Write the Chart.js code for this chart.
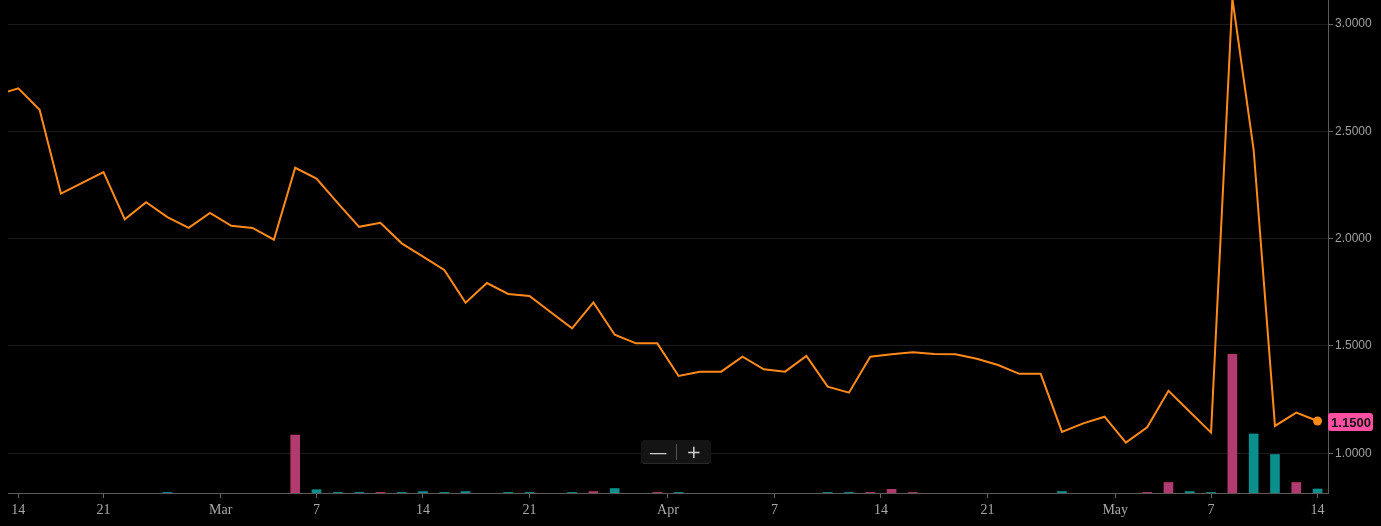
<!DOCTYPE html>
<html>
<head>
<meta charset="utf-8">
<script src="https://cdn.jsdelivr.net/npm/chart.js@4.4.1/dist/chart.umd.min.js"></script>
<style>
  body { margin: 0; background: #000; overflow: hidden; }
  #wrap { position: relative; width: 1381px; height: 526px; }
  .zoombox {
    position: absolute; left: 641px; top: 440px; width: 70px; height: 24px;
    background: #141414; border-radius: 4px; border-bottom: 1px solid #2a2a2a;
    font-family: "DejaVu Sans", sans-serif; color: #cfcfcf; font-size: 18px;
    display: flex; align-items: center; box-sizing: border-box;
  }
  .zoombox span { flex: 1; text-align: center; line-height: 22px; }
  .zoombox .sep { flex: 0 0 1px; height: 16px; background: #555; }
</style>
</head>
<body>
<div id="wrap">
  <canvas id="grafico" width="1381" height="526"></canvas>
  <div class="zoombox"><span>&#8212;</span><i class="sep"></i><span>+</span></div>
</div>
<script>
// precos de fechamento, o primeiro fica antes do primeiro dia visivel (indice -1)
const precos = [2.67, 2.70, 2.60, 2.21, 2.26, 2.31, 2.09, 2.17, 2.10, 2.05,
  2.12, 2.06, 2.05, 1.995, 2.33, 2.28, 2.165, 2.055, 2.074, 1.978,
  1.916, 1.854, 1.701, 1.793, 1.742, 1.733, 1.657, 1.582, 1.703, 1.552,
  1.512, 1.512, 1.36, 1.38, 1.38, 1.45, 1.391, 1.38, 1.453, 1.31,
  1.282, 1.45, 1.461, 1.47, 1.462, 1.461, 1.44, 1.411, 1.37, 1.37,
  1.099, 1.139, 1.17, 1.049, 1.121, 1.291, 1.193, 1.096, 3.12, 2.413,
  1.127, 1.189, 1.15];

// volume por dia (indice 0..61), null = sem negocios
const volumes = [null, null, null, null, null, null, null, 12, null, null,
  null, null, null, 1176, 67, 12, 12, 12, 12, 30,
  12, 30, null, 12, 12, null, 12, 30, 91, null,
  12, 12, null, null, null, null, null, null, 12, 12,
  12, 75, 12, null, null, null, null, null, null, 30,
  null, null, null, 12, 213, 30, 12, 2813, 1197, 781,
  213, 81];

// 1 = compra (verde), -1 = venda (rosa)
const direcao = [0, 0, 0, 0, 0, 0, 0, 1, 0, 0,
  0, 0, 0, -1, 1, 1, 1, -1, 1, 1,
  1, 1, 0, 1, 1, 0, 1, -1, 1, 0,
  -1, 1, 0, 0, 0, 0, 0, 0, 1, 1,
  -1, -1, -1, 0, 0, 0, 0, 0, 0, 1,
  0, 0, 0, -1, -1, 1, 1, -1, 1, 1,
  -1, 1];

const posicoesX = [0, 4, 9.5, 14, 19, 24, 30.5, 35.5, 40.5, 45.5, 51.5, 56, 61];
const rotulosX = ["14", "21", "Mar", "7", "14", "21", "Apr", "7", "14", "21", "May", "7", "14"];
const ticksY = [1.0, 1.5, 2.0, 2.5, 3.0];

const ultimoPreco = precos[precos.length - 1];

// etiqueta rosa com o ultimo preco no eixo da direita
const etiquetaPreco = {
  id: "etiquetaPreco",
  afterDraw(chart) {
    const ctx = chart.ctx;
    const y = chart.scales.y.getPixelForValue(ultimoPreco) + 1;
    const x0 = chart.chartArea.right;
    ctx.save();
    ctx.fillStyle = "#ff4fa3";
    ctx.beginPath();
    ctx.roundRect(x0, y - 9, 45, 18, 3);
    ctx.fill();
    ctx.fillStyle = "#141414";
    ctx.font = "bold 13px 'Liberation Sans', Arial, sans-serif";
    ctx.textBaseline = "middle";
    ctx.textAlign = "center";
    ctx.fillText(ultimoPreco.toFixed(4), x0 + 23, y + 1);
    ctx.restore();
  },
};

// tira o espaco extra que o Chart.js reserva para os rotulos das pontas
function semPadding(s) {
  s.paddingTop = 0;
  s.paddingBottom = 0;
  s.paddingLeft = 0;
  s.paddingRight = 0;
}

function grafico() {
  const ctx = document.getElementById("grafico").getContext("2d");
  const ultimo = precos.length - 1;

  new Chart(ctx, {
    data: {
      datasets: [
        {
          type: "line",
          data: precos.map((v, i) => ({ x: i - 1, y: v })),
          borderColor: "#ff8a1a",
          borderWidth: 2,
          pointRadius: (c) => (c.dataIndex === ultimo ? 4.5 : 0),
          pointHoverRadius: 0,
          pointBackgroundColor: "#ff8a1a",
          pointBorderWidth: 0,
          tension: 0,
          yAxisID: "y",
          order: 0,
        },
        {
          type: "bar",
          data: volumes.map((v, i) => ({ x: i, y: v })),
          backgroundColor: direcao.map((d) => (d < 0 ? "#b13a6f" : "#0a8f8d")),
          barThickness: 9,
          yAxisID: "vol",
          order: 1,
        },
      ],
    },
    options: {
      responsive: false,
      animation: false,
      devicePixelRatio: 1,
      layout: { autoPadding: false, padding: { left: 8, top: 0, right: 0, bottom: 0 } },
      plugins: { legend: { display: false }, tooltip: { enabled: false } },
      scales: {
        x: {
          type: "linear",
          offset: false,
          min: -0.484,
          max: 61.49,
          afterBuildTicks: (s) => { s.ticks = posicoesX.map((v) => ({ value: v })); },
          afterFit: (s) => { s.height = 33; semPadding(s); },
          ticks: {
            autoSkip: false,
            maxRotation: 0,
            padding: 4,
            color: "#a8a8a8",
            font: { size: 14, family: "'Liberation Serif', 'Times New Roman', serif" },
            callback: (v) => rotulosX[posicoesX.indexOf(v)],
          },
          grid: { offset: false, drawOnChartArea: false, drawTicks: true, tickLength: 5, tickColor: "#666" },
          border: { display: true, color: "#5a5a5a" },
        },
        y: {
          position: "right",
          min: 0.8145,
          max: 3.112,
          afterBuildTicks: (s) => { s.ticks = ticksY.map((v) => ({ value: v })); },
          afterFit: (s) => { s.width = 53; semPadding(s); },
          ticks: {
            padding: 2,
            color: "#a0a0a0",
            font: { size: 12, family: "'Liberation Sans', Arial, sans-serif" },
            callback: (v) => Number(v).toFixed(4),
          },
          grid: { color: "#1a1a1a", tickLength: 5, tickColor: "#666" },
          border: { display: true, color: "#5a5a5a" },
        },
        vol: {
          display: false,
          min: 0,
          max: 10000,
        },
      },
    },
    plugins: [etiquetaPreco],
  });
}

grafico();
</script>
</body>
</html>
